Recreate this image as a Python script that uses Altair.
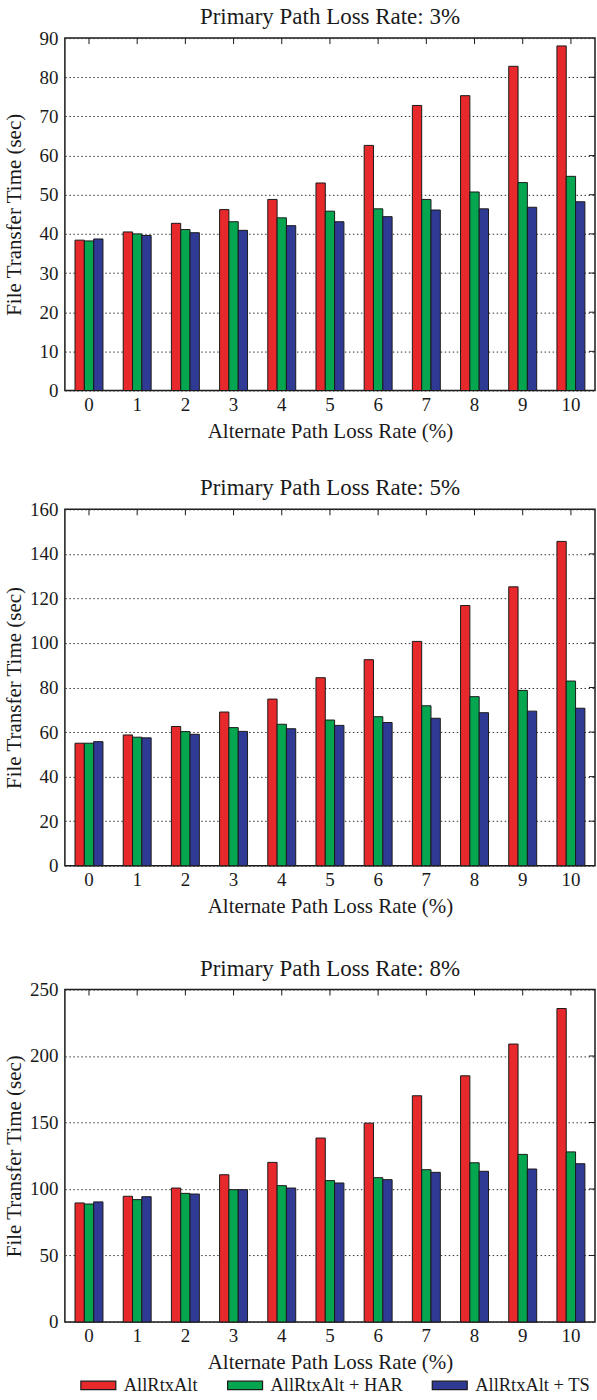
import altair as alt
import pandas as pd

# Alternate-path loss rates (%) on the x axis
loss_alt = [0, 1, 2, 3, 4, 5, 6, 7, 8, 9, 10]
schemes = ["AllRtxAlt", "AllRtxAlt + HAR", "AllRtxAlt + TS"]
scheme_colors = ["#E8292C", "#05A64F", "#2F3A94"]

# File transfer times (sec), primary path loss 3%
p3_rtx = [38.4, 40.5, 42.7, 46.2, 48.8, 53.0, 62.6, 72.8, 75.3, 82.8, 88.0]
p3_har = [38.2, 40.0, 41.1, 43.1, 44.1, 45.8, 46.4, 48.8, 50.7, 53.1, 54.7]
p3_ts = [38.7, 39.6, 40.3, 40.9, 42.1, 43.1, 44.4, 46.1, 46.4, 46.8, 48.2]

# primary path loss 5%
p5_rtx = [55.0, 58.7, 62.5, 69.0, 74.8, 84.4, 92.5, 100.7, 116.8, 125.2, 145.6]
p5_har = [55.0, 57.7, 60.2, 62.0, 63.5, 65.4, 66.9, 71.8, 75.9, 78.7, 82.9]
p5_ts = [55.7, 57.4, 59.0, 60.3, 61.5, 63.0, 64.3, 66.2, 68.7, 69.4, 70.7]

# primary path loss 8%
p8_rtx = [89.5, 94.5, 100.7, 110.7, 120.0, 138.3, 149.5, 170.1, 185.1, 209.0, 235.7]
p8_har = [88.7, 92.0, 96.7, 99.5, 102.5, 106.3, 108.5, 114.5, 119.7, 126.0, 127.9]
p8_ts = [90.3, 94.2, 96.2, 99.5, 100.7, 104.5, 107.0, 112.5, 113.3, 115.0, 119.0]

y_ticks_3 = [0, 10, 20, 30, 40, 50, 60, 70, 80, 90]
y_ticks_5 = [0, 20, 40, 60, 80, 100, 120, 140, 160]
y_ticks_8 = [0, 50, 100, 150, 200, 250]

FONT = "Liberation Serif"
INK = "#1a1a1a"
W = 531
X_TITLE = "Alternate Path Loss Rate (%)"
Y_TITLE = "File Transfer Time (sec)"


def panel(title, series_values, y_ticks, height):
    rows = []
    for name, vals in zip(schemes, series_values):
        for a, v in zip(loss_alt, vals):
            rows.append({"alt": a, "scheme": name, "time": v})
    df = pd.DataFrame(rows)

    x_enc = alt.X(
        "alt:O",
        title=X_TITLE,
        scale=alt.Scale(paddingInner=0.42, paddingOuter=0.21),
        axis=alt.Axis(labelAngle=0, ticks=False, domain=False, labelPadding=5,
                      titlePadding=6),
    )
    y_enc = alt.Y(
        "time:Q",
        title=Y_TITLE,
        scale=alt.Scale(domain=[y_ticks[0], y_ticks[-1]], nice=False, zero=True),
        axis=alt.Axis(values=y_ticks, ticks=False, domain=False, grid=True,
                      gridDash=[1.5, 2.5], gridColor="#333333", gridWidth=1,
                      labelPadding=7, titleX=-40),
    )

    bars = alt.Chart(df).mark_bar(stroke=INK, strokeWidth=1).encode(
        x=x_enc,
        xOffset=alt.XOffset("scheme:N", sort=schemes,
                            scale=alt.Scale(paddingInner=0, paddingOuter=0)),
        y=y_enc,
        fill=alt.Fill("scheme:N", sort=schemes,
                      scale=alt.Scale(domain=schemes, range=scheme_colors),
                      legend=alt.Legend(title=None)),
    )

    # short inward ticks along the top edge and the right edge
    top_ticks = alt.Chart(pd.DataFrame({"alt": loss_alt})).mark_rule(
        color=INK, strokeWidth=1
    ).encode(x=x_enc, y=alt.value(0), y2=alt.value(6))

    right_ticks = alt.Chart(pd.DataFrame({"time": y_ticks[1:-1]})).mark_rule(
        color=INK, strokeWidth=1
    ).encode(y=y_enc, x=alt.value(W - 6), x2=alt.value(W))

    return alt.layer(bars, top_ticks, right_ticks).properties(
        width=W,
        height=height,
        title=alt.TitleParams(title, font=FONT, fontSize=23, fontWeight="normal",
                              color=INK, offset=0, frame="group"),
    )


top_pair = alt.vconcat(
    panel("Primary Path Loss Rate: 3%", [p3_rtx, p3_har, p3_ts], y_ticks_3, 353),
    panel("Primary Path Loss Rate: 5%", [p5_rtx, p5_har, p5_ts], y_ticks_5, 357),
    spacing=34,
)

chart = alt.vconcat(
    top_pair,
    panel("Primary Path Loss Rate: 8%", [p8_rtx, p8_har, p8_ts], y_ticks_8, 333),
    spacing=39,
).resolve_scale(
    y="independent"
).properties(
    padding={"left": 3, "top": 4, "right": 0, "bottom": 0},
    background="white",
).configure_view(
    stroke=INK, strokeWidth=1.5
).configure_axis(
    labelFont=FONT, labelFontSize=19, labelColor=INK,
    titleFont=FONT, titleFontSize=21, titleFontWeight="normal", titleColor=INK,
).configure_legend(
    orient="none",
    legendX=15,
    legendY=1331,
    direction="horizontal",
    symbolType="M-1,-0.24L1,-0.24L1,0.24L-1,0.24Z",
    symbolSize=1225,
    symbolStrokeColor=INK,
    symbolStrokeWidth=1.2,
    symbolOpacity=1,
    labelFont=FONT,
    labelFontSize=18.5,
    labelColor=INK,
    labelOffset=7,
    columnPadding=26,
    labelLimit=300,
)

chart.save("out.html", embed_options={"renderer": "svg", "actions": False})
